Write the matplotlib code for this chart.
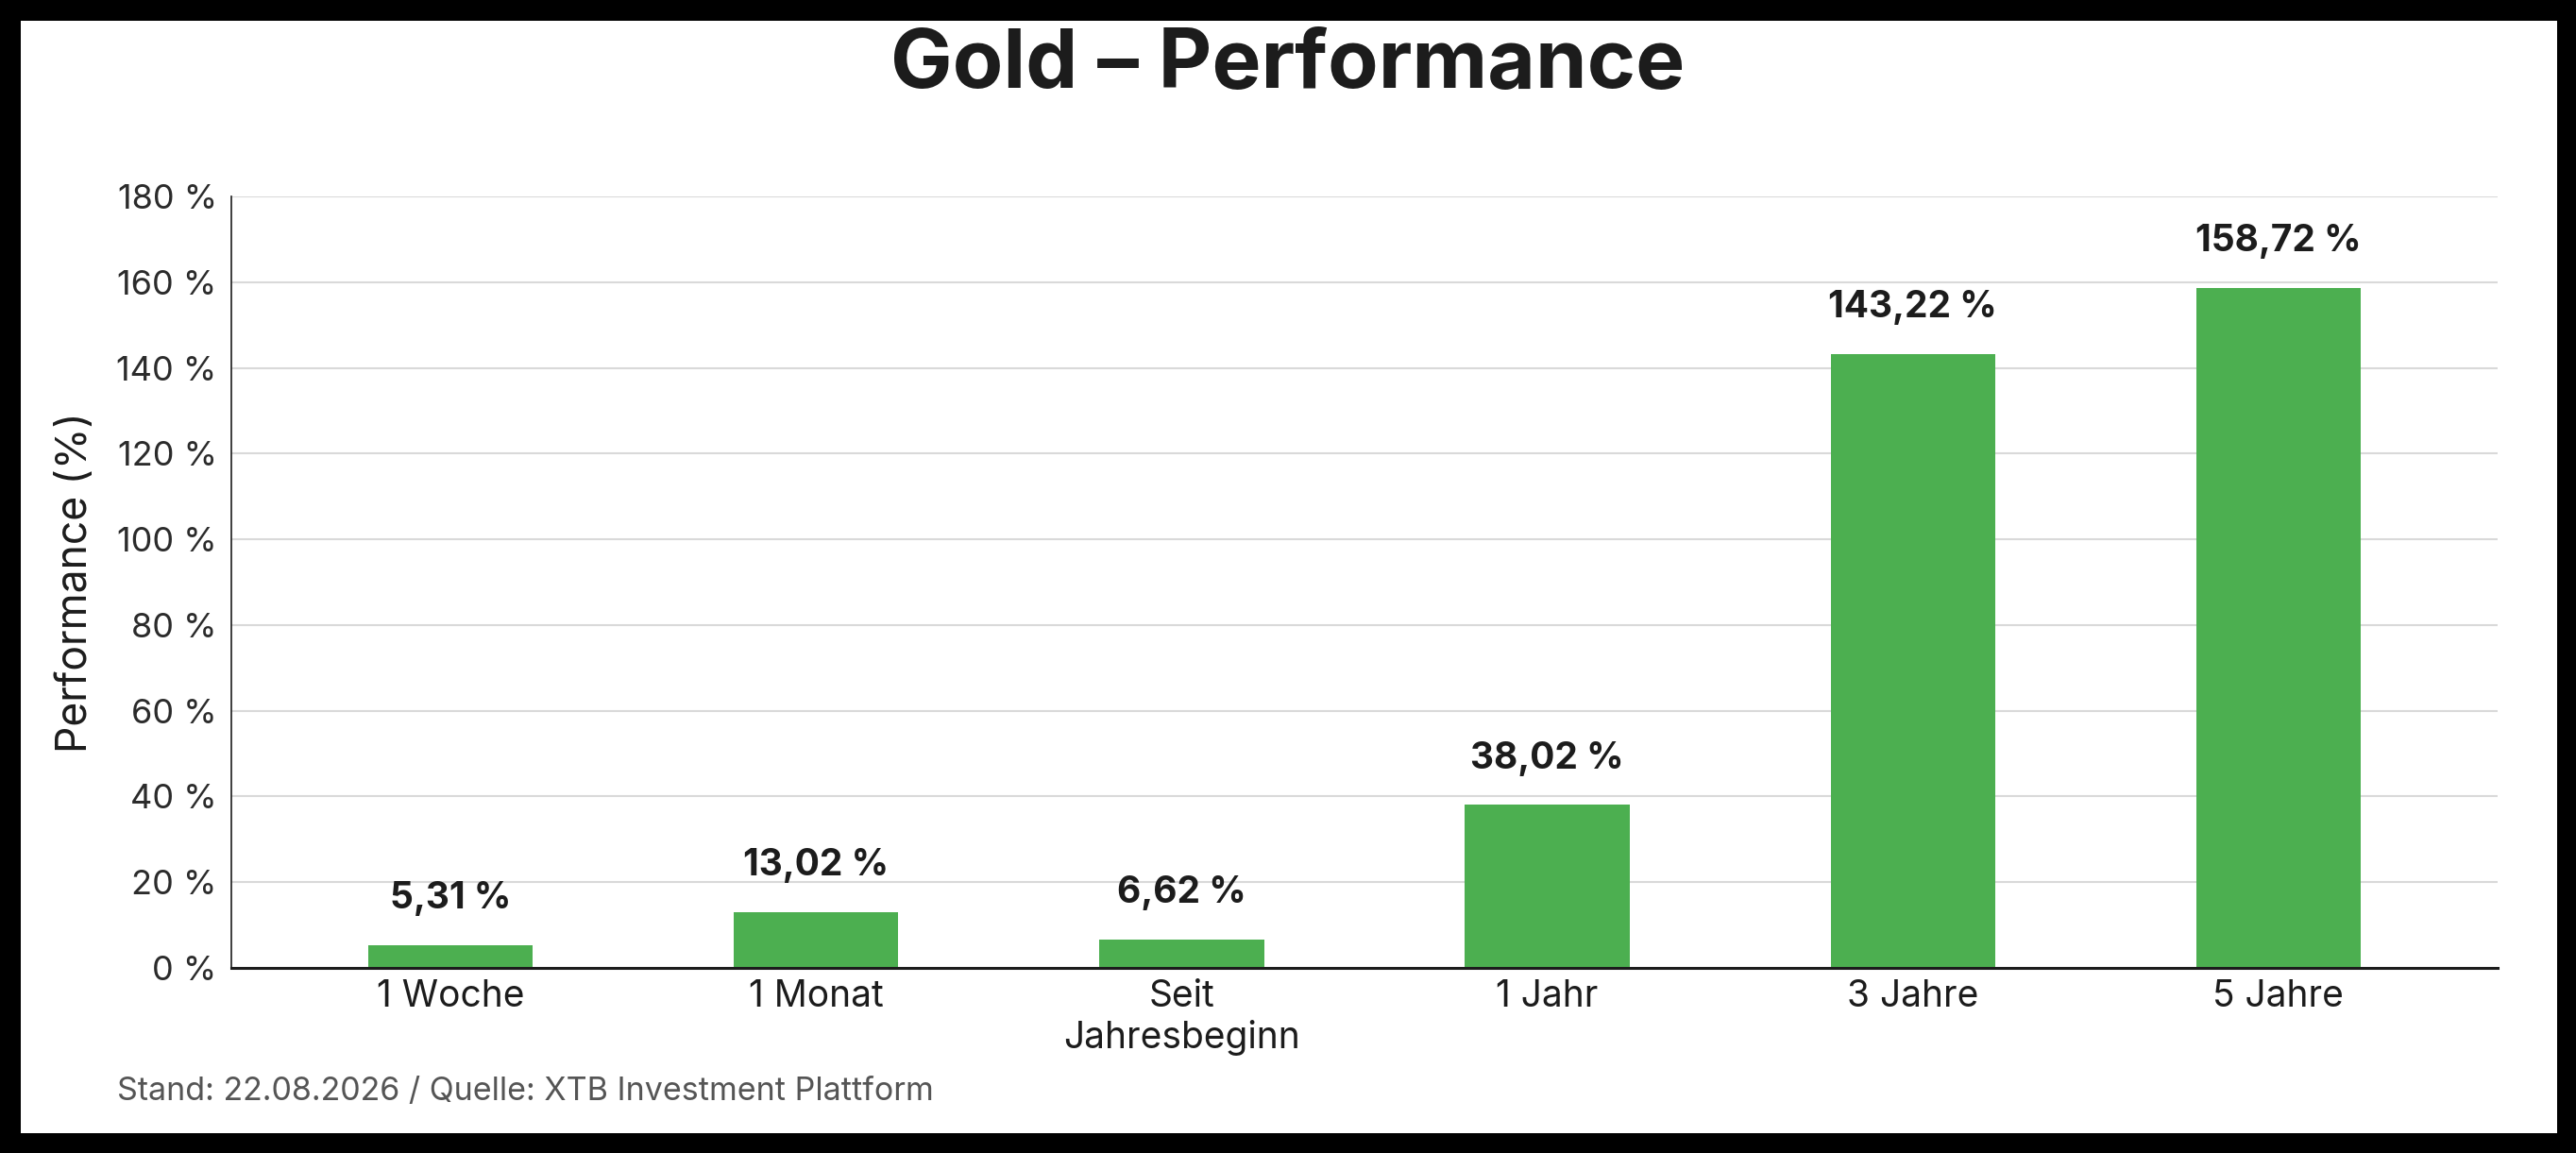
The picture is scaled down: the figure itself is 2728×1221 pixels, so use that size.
import matplotlib
matplotlib.use("Agg")
import matplotlib.pyplot as plt
from matplotlib.patches import Rectangle
from matplotlib.ticker import FuncFormatter, MultipleLocator

# data
categories = ["1 Woche", "1 Monat", "Seit\nJahresbeginn", "1 Jahr", "3 Jahre", "5 Jahre"]
performance = [5.31, 13.02, 6.62, 38.02, 143.22, 158.72]

title = "Gold – Performance"
y_label = "Performance (%)"
footer = "Stand: 22.08.2026 / Quelle: XTB Investment Plattform"

bar_color = "#4caf50"
text_color = "#1c1c1c"

plt.rcParams["font.family"] = ["Inter", "DejaVu Sans"]

W, H = 2728, 1221
fig = plt.figure(figsize=(W / 100, H / 100), dpi=100)
fig.patch.set_facecolor("black")
# white card inside the black frame
fig.patches.append(Rectangle((22 / W, 21 / H), (W - 42) / W, (H - 43) / H,
                             transform=fig.transFigure, facecolor="white",
                             edgecolor="none", zorder=0))

ax = fig.add_axes([245 / W, 1 - 1025 / H, 2400 / W, 817 / H])
ax.set_zorder(2)
ax.set_facecolor("white")

x = list(range(len(categories)))
bars = ax.bar(x, performance, width=0.45, color=bar_color, zorder=3)

for b, v in zip(bars, performance):
    ax.annotate(f"{v:.2f} %".replace(".", ","),
                (b.get_x() + b.get_width() / 2, v),
                xytext=(0, 28), textcoords="offset points",
                ha="center", va="baseline", fontsize=28, fontweight="bold",
                color=text_color)

ax.set_xlim(-0.6, len(categories) - 0.4)
ax.set_ylim(0, 180)
ax.yaxis.set_major_locator(MultipleLocator(20))
ax.yaxis.set_major_formatter(FuncFormatter(lambda v, p: f"{v:.0f} %"))
ax.set_xticks(x)
ax.set_xticklabels(categories, linespacing=1.2)

ax.grid(axis="y", color="#d9d9d9", linewidth=1.5, zorder=0)
ax.set_axisbelow(True)

for s in ["top", "right"]:
    ax.spines[s].set_visible(False)
ax.spines["left"].set_linewidth(1.2)
ax.spines["left"].set_color("#1c1c1c")
ax.spines["bottom"].set_linewidth(2.2)
ax.spines["bottom"].set_color("#1c1c1c")
ax.spines["bottom"].set_zorder(4)

ax.tick_params(axis="y", length=0, pad=11, labelsize=26, labelcolor="#2b2b2b")
ax.tick_params(axis="x", length=0, pad=9, labelsize=28, labelcolor="#1c1c1c")

ax.set_ylabel(y_label, fontsize=32, color="#1c1c1c", labelpad=16)

fig.text(0.5, 1 - 93 / H, title, ha="center", va="baseline",
         fontsize=63, fontweight="bold", color=text_color, zorder=3)
fig.text(124 / W, 1 - 1165 / H, footer, ha="left", va="baseline",
         fontsize=24.5, color="#555555", zorder=3)

fig.savefig("out.png", dpi=100, facecolor=fig.get_facecolor())
